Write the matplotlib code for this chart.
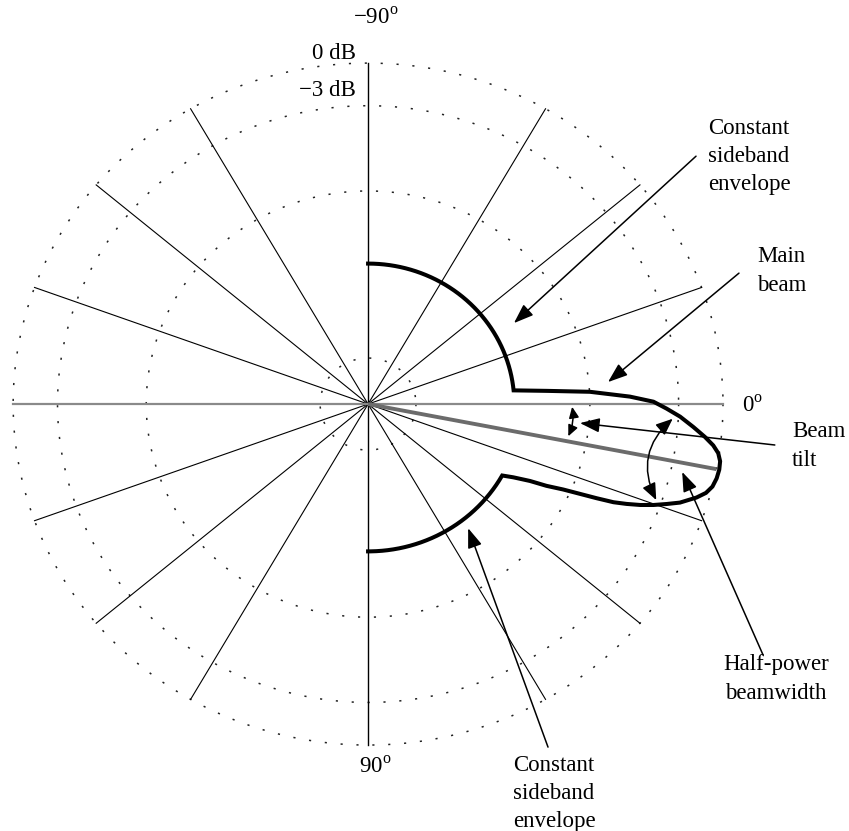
import numpy as np
import matplotlib.pyplot as plt

plt.rcParams['font.family'] = ['Liberation Serif', 'DejaVu Serif']
plt.rcParams['mathtext.fontset'] = 'custom'
plt.rcParams['mathtext.rm'] = 'Liberation Serif'

# dotted level circles (radius relative to 0 dB) and their labels
circle_radii = [1.0, 0.875, 0.625, 0.135]
circle_labels = ['0 dB', '\u22123 dB', '', '']

# spokes drawn as full diameters, angle in degrees (positive = downward)
spoke_angles = [20, 40, 60, -20, -40, -60]

# constant sideband envelopes: level and angular span (deg, positive downward)
upper_level = 0.412
upper_span = [-90, -5.6]
lower_level = 0.432
lower_span = [29.0, 90]

# main beam between the two envelopes
beam_theta = [-4.4, -3.3, -1.7, -0.5, 0.9, 2.4, 4.2, 5.8, 7.1, 8.3, 9.6, 11.0,
              12.5, 14.0, 15.3, 16.5, 18.2, 19.2, 20.2, 21.1, 21.9, 22.6,
              23.2, 23.8, 24.5, 25.5, 26.3, 27.7]
beam_r = [0.505, 0.626, 0.738, 0.804, 0.841, 0.880, 0.919, 0.954, 0.980, 0.997,
          1.006, 1.008, 1.006, 1.000, 0.987, 0.965, 0.925, 0.891, 0.857, 0.822,
          0.785, 0.749, 0.701, 0.653, 0.604, 0.557, 0.509, 0.462]

beam_tilt = 11.0
hpbw_edges = [2.5, 19.5]


def to_xy(theta_deg, r):
    t = np.radians(np.asarray(theta_deg, dtype=float))
    r = np.asarray(r, dtype=float)
    return r * np.cos(t), -r * np.sin(t)


def arc(level, span, n=200):
    a = np.linspace(span[0], span[1], n)
    return a, np.full_like(a, level)


def point(theta_deg, r):
    x, y = to_xy(theta_deg, r)
    return float(x), float(y)


fig = plt.figure(figsize=(8.49, 8.31), dpi=100)
ax = fig.add_axes([0, 0, 1, 1])
ax.set_xlim(-1.037, 1.355)
ax.set_ylim(-1.252, 1.185)
ax.axis('off')

# level circles
for r in circle_radii:
    ct, cr = arc(r, [0, 360], 1441)
    cx, cy = to_xy(ct, cr)
    ax.plot(cx, cy, color='#222222', lw=1.1, linestyle=(0, (1.4, 9.0)))

# spokes
for a in spoke_angles:
    sx, sy = to_xy([a, a + 180], [1, 1])
    ax.plot(sx, sy, color='black', lw=0.8)
ax.plot([0, 0], [-1, 1], color='black', lw=1.0)
ax.plot([-1, 1], [0, 0], color='#8a8a8a', lw=1.6)

# beam tilt line
tx, ty = to_xy([0, beam_tilt], [0, 1.0])
ax.plot(tx, ty, color='#6b6b6b', lw=2.8, solid_capstyle='butt')

# pattern: upper envelope, main beam, lower envelope
ut, ur = arc(upper_level, upper_span)
lt, lr = arc(lower_level, lower_span)
theta = np.concatenate([ut, beam_theta, lt])
rr = np.concatenate([ur, beam_r, lr])
px, py = to_xy(theta, rr)
ax.plot(px, py, color='black', lw=2.9, solid_joinstyle='miter')

# labels on the diagram
fs = 16.5
ls = 1.45
deg = r'$^{\mathrm{o}}$'
ax.text(0.021, 1.132, '\u221290' + deg, fontsize=fs, ha='center', va='center')
ax.text(0.020, -1.065, '90' + deg, fontsize=fs, ha='center', va='center')
ax.text(1.054, -0.006, '0' + deg, fontsize=fs, ha='left', va='center')
ax.text(-0.034, 1.029, circle_labels[0], fontsize=fs, ha='right', va='center')
ax.text(-0.034, 0.921, circle_labels[1], fontsize=fs, ha='right', va='center')

big = dict(arrowstyle='-|>,head_length=0.6,head_width=0.22', color='black',
           lw=1.1, shrinkA=0, shrinkB=0, mutation_scale=20)
small = dict(arrowstyle='<|-|>,head_length=0.6,head_width=0.25', color='black',
             lw=1.1, shrinkA=2, shrinkB=2, mutation_scale=17)

ax.text(0.958, 0.726, 'Constant\nsideband\nenvelope', fontsize=fs,
        ha='left', va='center', linespacing=ls)
ax.annotate('', xy=(0.411, 0.2375), xytext=(0.924, 0.727), arrowprops=big)

ax.text(1.096, 0.390, 'Main\nbeam', fontsize=fs, ha='left', va='center',
        linespacing=ls)
ax.annotate('', xy=(0.676, 0.0645), xytext=(1.045, 0.384), arrowprops=big)

ax.text(1.194, -0.123, 'Beam\ntilt', fontsize=fs, ha='left', va='center',
        linespacing=ls)
ax.annotate('', xy=(0.597, -0.0557), xytext=(1.146, -0.120), arrowprops=big)

ax.text(1.149, -0.806, 'Half-power\nbeamwidth', fontsize=fs, ha='center',
        va='center', linespacing=ls)
ax.annotate('', xy=(0.885, -0.199), xytext=(1.113, -0.736), arrowprops=big)

ax.text(0.408, -1.142, 'Constant\nsideband\nenvelope', fontsize=fs,
        ha='left', va='center', linespacing=ls)
ax.annotate('', xy=(0.282, -0.364), xytext=(0.507, -1.006), arrowprops=big)

# angle arrows: tilt from 0 deg, half-power between the -3 dB crossings
tilt_arrow = dict(arrowstyle='<|-|>,head_length=0.55,head_width=0.25',
                  color='black', lw=1.1, shrinkA=0, shrinkB=0,
                  mutation_scale=12, connectionstyle='arc3,rad=-0.15')
ax.annotate('', xy=point(beam_tilt - 1.5, 0.572), xytext=point(0.8, 0.575),
            arrowprops=tilt_arrow)
ax.annotate('', xy=point(hpbw_edges[1], 0.865), xytext=point(hpbw_edges[0], 0.865),
            arrowprops=dict(small, connectionstyle='arc3,rad=0.4'))

fig.savefig('out.png', dpi=100)
